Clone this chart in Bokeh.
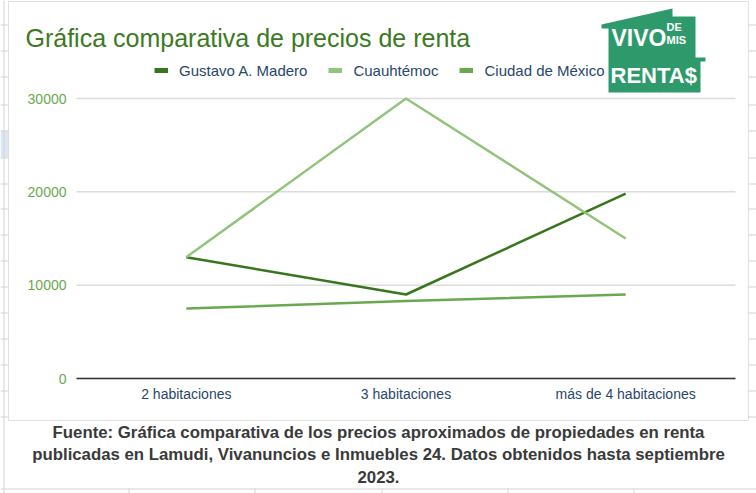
from bokeh.plotting import figure
from bokeh.models import (Range1d, FixedTicker, Legend, LegendItem,
                          Label, BoxAnnotation, PolyAnnotation)
from bokeh.embed import file_html
from bokeh.resources import INLINE

# ---------------- data ----------------
categories = ["2 habitaciones", "3 habitaciones", "más de 4 habitaciones"]
gustavo_a_madero = [13000, 9000, 19800]
cuauhtemoc = [13000, 30000, 15000]
ciudad_de_mexico = [7500, 8300, 9000]
series_names = ["Gustavo A. Madero", "Cuauhtémoc", "Ciudad de México"]
y_ticks = [0, 10000, 20000, 30000]
title_text = "Gráfica comparativa de precios de renta"
caption_lines = [
    "Fuente: Gráfica comparativa de los precios aproximados de propiedades en renta",
    "publicadas en Lamudi, Vivanuncios e Inmuebles 24. Datos obtenidos hasta septiembre",
    "2023.",
]

# ---------------- style / geometry ----------------
colors = ["#38761d", "#93c47d", "#6aa84f"]
FONT = "Liberation Sans"

W, H = 756, 493
PL, PR = 76, 735          # plot area left/right (page px)
PY0, PY30 = 378, 98       # page y of value 0 and of the top tick

n = len(categories)
xs = [i + 0.5 for i in range(n)]
units_per_px = n / (PR - PL)
val_per_px = y_ticks[-1] / (PY0 - PY30)

p = figure(width=W, height=H,
           x_range=Range1d(-PL * units_per_px, n + (W - PR) * units_per_px),
           y_range=Range1d(-(H - PY0) * val_per_px, PY0 * val_per_px),
           output_backend="svg", toolbar_location=None,
           min_border=0, min_border_left=0, min_border_right=0,
           min_border_top=0, min_border_bottom=0)
p.outline_line_color = None
p.background_fill_color = "white"
p.border_fill_color = "white"
p.xgrid.grid_line_color = None
p.ygrid.grid_line_color = None


def sx(px):
    return px


def sy(py):
    return H - py


# ---------------- spreadsheet background decorations ----------------
grid_col = "#d4d4d4"


def box(x0, x1, y0, y1, color):
    p.add_layout(BoxAnnotation(left=sx(x0), right=sx(x1), top=sy(y0), bottom=sy(y1),
                               left_units="screen", right_units="screen",
                               top_units="screen", bottom_units="screen",
                               fill_color=color, fill_alpha=1, line_color=None,
                               level="underlay"))


box(0, 8, 130, 157, "#dbe6f7")
for ry in [24, 50, 76, 104, 130, 157, 183, 208, 234, 260, 286, 312, 338, 364, 390, 416]:
    box(0, 8, ry, ry + 1, grid_col)
    box(748, 756, ry, ry + 1, grid_col)
box(3, 4, 0, 493, grid_col)
box(0, 756, 488, 489, grid_col)
for cx in [128, 254, 381, 507, 633]:
    box(cx, cx + 1, 488, 493, grid_col)

# chart box
p.add_layout(BoxAnnotation(left=sx(8), right=sx(748), top=sy(1), bottom=sy(420),
                           left_units="screen", right_units="screen",
                           top_units="screen", bottom_units="screen",
                           fill_color="white", fill_alpha=1,
                           line_color="#9a9a9a", line_width=1, level="underlay"))

# ---------------- gridlines ----------------
p.segment(x0=[0] * len(y_ticks), x1=[n] * len(y_ticks), y0=y_ticks, y1=y_ticks,
          line_color="#dcdcdc", line_width=1.5)

# ---------------- axes (fixed inside the frame) ----------------
p.yaxis.fixed_location = 0
p.yaxis.ticker = FixedTicker(ticks=y_ticks)
p.yaxis.axis_line_color = None
p.yaxis.major_tick_line_color = None
p.yaxis.minor_tick_line_color = None
p.yaxis.major_tick_out = 0
p.yaxis.major_tick_in = 0
p.yaxis.major_label_text_color = "#6aa84f"
p.yaxis.major_label_text_font = FONT
p.yaxis.major_label_text_font_size = "14px"
p.yaxis.major_label_standoff = 10

p.xaxis.fixed_location = 0
p.xaxis.bounds = (0, n)
p.xaxis.ticker = FixedTicker(ticks=xs)
p.xaxis.major_label_overrides = {x: c for x, c in zip(xs, categories)}
p.xaxis.axis_line_color = "#333333"
p.xaxis.axis_line_width = 1.5
p.xaxis.major_tick_line_color = None
p.xaxis.minor_tick_line_color = None
p.xaxis.major_tick_out = 0
p.xaxis.major_tick_in = 0
p.xaxis.major_label_text_color = "#29476b"
p.xaxis.major_label_text_font = FONT
p.xaxis.major_label_text_font_size = "14px"
p.xaxis.major_label_standoff = 7

# ---------------- series lines ----------------
all_series = [gustavo_a_madero, cuauhtemoc, ciudad_de_mexico]
for vals, col in zip(all_series, colors):
    p.line(x=xs, y=vals, line_color=col, line_width=2.5)

# legend with thick swatches (single-point proxy renderers draw nothing)
items = []
for name, vals, col in zip(series_names, all_series, colors):
    r = p.line(x=xs[:1], y=vals[:1], line_color=col, line_width=5)
    items.append(LegendItem(label=name, renderers=[r]))
legend = Legend(items=items, orientation="horizontal",
                location=(sx(154), sy(80)),
                glyph_width=14, glyph_height=20, label_height=20,
                label_standoff=11, spacing=21, padding=0, margin=0,
                border_line_color=None, background_fill_alpha=0,
                label_text_font=FONT, label_text_font_size="15px",
                label_text_color="#29476b")
p.add_layout(legend)

# ---------------- title ----------------
p.add_layout(Label(x=sx(25), y=sy(37), x_units="screen", y_units="screen",
                   text=title_text, text_font=FONT, text_font_size="25px",
                   text_color="#3b7a22", text_baseline="alphabetic"))

# ---------------- logo (house badge) ----------------
logo_x = [601, 672, 672, 695, 695, 705, 705, 700, 700, 608, 608, 601]
logo_y = [24, 8, 16, 16, 57, 57, 61, 61, 92, 92, 28, 28]
p.add_layout(PolyAnnotation(xs=[sx(v) for v in logo_x], ys=[sy(v) for v in logo_y],
                            xs_units="screen", ys_units="screen",
                            fill_color="#2e9a6c", fill_alpha=1, line_color=None))
for txt, x, y, size in [("VIVO", 611, 37, "23px"), ("DE", 666, 26, "11px"),
                        ("MIS", 666, 39, "11px"), ("RENTA$", 610, 75, "22px")]:
    p.add_layout(Label(x=sx(x), y=sy(y), x_units="screen", y_units="screen",
                       text=txt, text_font=FONT, text_font_style="bold",
                       text_font_size=size, text_color="white",
                       text_baseline="alphabetic"))

# ---------------- caption ----------------
for txt, by in zip(caption_lines, [432, 454, 476]):
    p.add_layout(Label(x=sx(378), y=sy(by), x_units="screen", y_units="screen",
                       text=txt, text_font=FONT, text_font_style="bold",
                       text_font_size="16.8px", text_color="#3a3a3a",
                       text_align="center", text_baseline="alphabetic"))

open("out.html", "w").write(file_html(p, INLINE))
